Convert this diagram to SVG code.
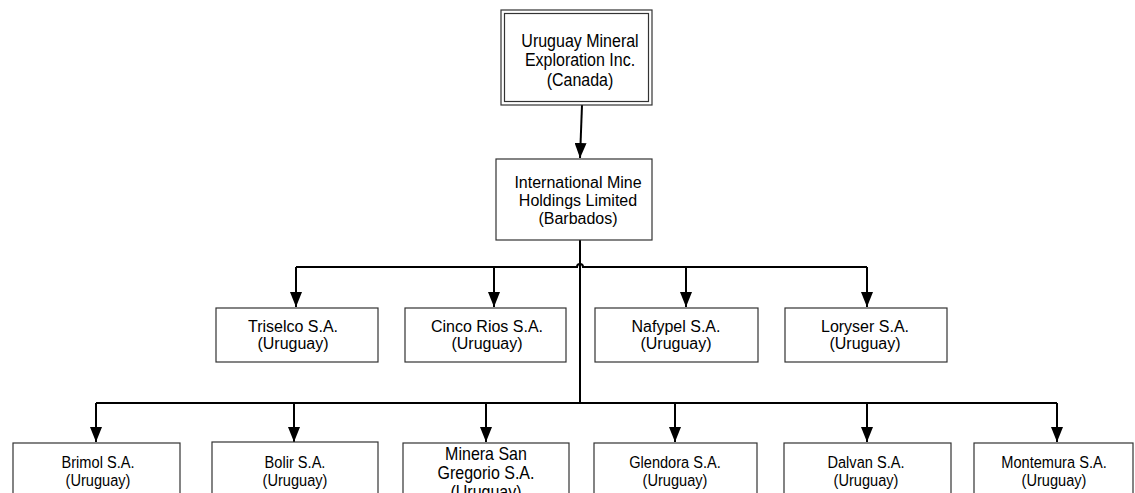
<svg xmlns="http://www.w3.org/2000/svg" width="1135" height="493" viewBox="0 0 1135 493">
<defs>
<style>
.box{fill:#fff;stroke:#333;stroke-width:1.2}
.t{font-family:"Liberation Sans",Arial,sans-serif;font-size:16px;fill:#000;text-anchor:middle}
.s{font-size:14.6px}
.c{fill:none;stroke:#000;stroke-width:2}
</style>
<marker id="ahd" markerUnits="userSpaceOnUse" markerWidth="16" markerHeight="12" viewBox="0 0 16 12" refX="15" refY="6" orient="auto">
<path d="M0,0 L15,6 L0,12 Z" fill="#000"/>
</marker>
</defs>
<rect width="1135" height="493" fill="#fff"/>

<g id="connectors">
<path class="c" d="M582,105 L580,158" marker-end="url(#ahd)"/>
<path class="c" d="M580,240 L580,403"/>
<path class="c" d="M296,267 L577,267 A3,3 0 0 1 583,267 L867,267"/>
<path class="c" d="M296,267 L296,307" marker-end="url(#ahd)"/>
<path class="c" d="M494,267 L494,307" marker-end="url(#ahd)"/>
<path class="c" d="M686,267 L686,307" marker-end="url(#ahd)"/>
<path class="c" d="M867,267 L867,307" marker-end="url(#ahd)"/>
<path class="c" d="M96,403 L1057,403"/>
<path class="c" d="M96,403 L96,442" marker-end="url(#ahd)"/>
<path class="c" d="M294,403 L294,442" marker-end="url(#ahd)"/>
<path class="c" d="M486,403 L486,442" marker-end="url(#ahd)"/>
<path class="c" d="M675,403 L675,442" marker-end="url(#ahd)"/>
<path class="c" d="M867,403 L867,442" marker-end="url(#ahd)"/>
<path class="c" d="M1057,403 L1057,442" marker-end="url(#ahd)"/>
</g>

<g id="n-umei">
<rect class="box" x="501" y="10" width="151" height="95"/>
<rect class="box" x="504.5" y="13.5" width="144" height="88"/>
<text class="t" transform="matrix(1,0,0,1.16,580,46.7)">Uruguay Mineral</text>
<text class="t" transform="matrix(1,0,0,1.16,580,66.2)">Exploration Inc.</text>
<text class="t" transform="matrix(1,0,0,1.16,580,85.7)">(Canada)</text>
</g>

<g id="n-imhl">
<rect class="box" x="496" y="159" width="156" height="81"/>
<text class="t" x="578" y="187.5">International Mine</text>
<text class="t" x="578" y="205.5">Holdings Limited</text>
<text class="t" x="578" y="223.5">(Barbados)</text>
</g>

<g id="n-triselco">
<rect class="box" x="216" y="308" width="162" height="54"/>
<text class="t" x="293" y="331.5">Triselco S.A.</text>
<text class="t" x="293" y="348.5">(Uruguay)</text>
</g>
<g id="n-cinco">
<rect class="box" x="405" y="308" width="161" height="54"/>
<text class="t" x="487" y="331.5">Cinco Rios S.A.</text>
<text class="t" x="487" y="348.5">(Uruguay)</text>
</g>
<g id="n-nafypel">
<rect class="box" x="595" y="308" width="163" height="54"/>
<text class="t" x="676" y="331.5">Nafypel S.A.</text>
<text class="t" x="676" y="348.5">(Uruguay)</text>
</g>
<g id="n-loryser">
<rect class="box" x="785" y="308" width="162" height="54"/>
<text class="t" x="865" y="331.5">Loryser S.A.</text>
<text class="t" x="865" y="348.5">(Uruguay)</text>
</g>

<g id="n-brimol">
<rect class="box" x="13" y="443" width="167" height="54"/>
<text class="t s" transform="matrix(1,0,0,1.12,98,468.3)">Brimol S.A.</text>
<text class="t s" transform="matrix(1,0,0,1.12,98,485.7)">(Uruguay)</text>
</g>
<g id="n-bolir">
<rect class="box" x="212" y="442" width="166" height="55"/>
<text class="t s" transform="matrix(1,0,0,1.12,295,468.3)">Bolir S.A.</text>
<text class="t s" transform="matrix(1,0,0,1.12,295,485.7)">(Uruguay)</text>
</g>
<g id="n-minera">
<rect class="box" x="403" y="443" width="166" height="54"/>
<text class="t" transform="matrix(1,0,0,1.15,486,459.5)">Minera San</text>
<text class="t" transform="matrix(1,0,0,1.15,486,478.5)">Gregorio S.A.</text>
<text class="t" transform="matrix(1,0,0,1.15,486,497.5)">(Uruguay)</text>
</g>
<g id="n-glendora">
<rect class="box" x="594" y="443" width="163" height="54"/>
<text class="t s" transform="matrix(1,0,0,1.12,675,468.3)">Glendora S.A.</text>
<text class="t s" transform="matrix(1,0,0,1.12,675,485.7)">(Uruguay)</text>
</g>
<g id="n-dalvan">
<rect class="box" x="784" y="443" width="167" height="54"/>
<text class="t s" transform="matrix(1,0,0,1.12,866,468.3)">Dalvan S.A.</text>
<text class="t s" transform="matrix(1,0,0,1.12,866,485.7)">(Uruguay)</text>
</g>
<g id="n-montemura">
<rect class="box" x="974" y="443" width="159" height="54"/>
<text class="t s" transform="matrix(1,0,0,1.12,1054,468.3)">Montemura S.A.</text>
<text class="t s" transform="matrix(1,0,0,1.12,1054,485.7)">(Uruguay)</text>
</g>
</svg>
